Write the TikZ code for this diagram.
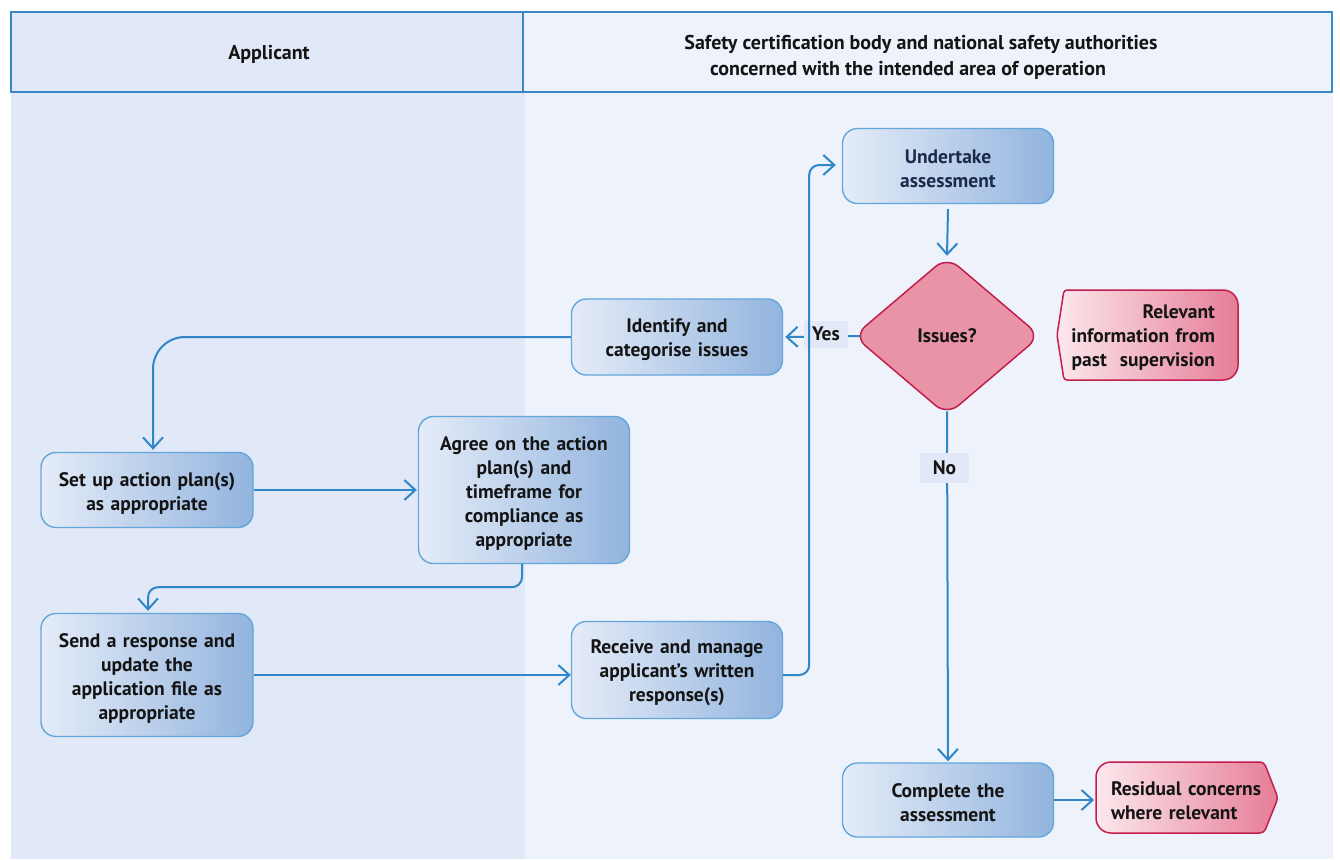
\documentclass[tikz,border=0pt]{standalone}
\usepackage{fontspec}
\setmainfont{PT Sans}
\usetikzlibrary{arrows.meta,shapes.geometric}
\definecolor{lanea}{HTML}{E1E8F7}
\definecolor{laneb}{HTML}{EDF2FB}
\definecolor{hdr}{HTML}{3B88C9}
\definecolor{connc}{HTML}{2F86C8}
\definecolor{boxedge}{HTML}{62A6DC}
\definecolor{boxl}{HTML}{E5ECF8}
\definecolor{boxr}{HTML}{92B4DE}
\definecolor{pinkedge}{HTML}{C41E4F}
\definecolor{diafill}{HTML}{E893A6}
\definecolor{pinkl}{HTML}{FCE8ED}
\definecolor{pinkr}{HTML}{E67D97}
\definecolor{txt}{HTML}{141414}
\definecolor{navy}{HTML}{1B2A4A}
\begin{document}
\begin{tikzpicture}[x=1pt,y=-1pt,
  font=\fontsize{19.5}{24}\selectfont\bfseries, text=txt,
  box/.style={draw=boxedge, line width=1.4pt, rounded corners=15pt, left color=boxl, right color=boxr, align=center, inner sep=0pt, execute at begin node={\rule{0pt}{20pt}}},
  conn/.style={draw=connc, line width=2pt, -{Straight Barb[length=11pt,width=20pt,line width=2pt]}},
  lbl/.style={fill=lanea, inner sep=0pt, minimum width=44pt, minimum height=27pt},
  pinkshape/.style={draw=pinkedge, line width=1.5pt, left color=pinkl, right color=pinkr},
  hdrcell/.style={draw=hdr, line width=2pt},
  hdrtext/.style={font=\fontsize{20}{26}\selectfont\bfseries}
]
\useasboundingbox (0,0) rectangle (1340,859);
\fill[white] (0,0) rectangle (1340,859);
% lanes
\fill[lanea] (11,92) rectangle (525,859);
\fill[laneb] (525,92) rectangle (1333,859);
\draw[hdrcell, fill=lanea] (11,12) rectangle (523,92);
\draw[hdrcell, fill=laneb] (523,12) rectangle (1332,92);
\node[hdrtext] (applicant) at (269,54) {Applicant};
\node[hdrtext] (authA) at (921,44) {Safety certification body and national safety authorities};
\node[hdrtext] (authB) at (908,70) {concerned with the intended area of operation};

% boxes
\node[box, minimum width=211pt, minimum height=75pt, text width=200pt, text=navy] (undertake) at (948,166) {Undertake\\assessment};
\node[diamond, draw=pinkedge, fill=diafill, line width=1.5pt, minimum width=187pt, minimum height=159pt, inner sep=0pt, rounded corners=15pt] (dia) at (947,336) {Issues?};
\node[box, minimum width=211pt, minimum height=76pt, text width=200pt] (ident) at (677,337) {Identify and\\categorise issues};
\node[box, minimum width=212pt, minimum height=75pt, text width=200pt] (setup) at (147,490) {Set up action plan(s)\\as appropriate};
\node[box, minimum width=211pt, minimum height=147pt, text width=200pt] (agree) at (524,490) {Agree on the action\\plan(s) and\\timeframe for\\compliance as\\appropriate};
\node[box, minimum width=212pt, minimum height=123pt, text width=200pt] (send) at (147,675) {Send a response and\\update the\\application file as\\appropriate};
\node[box, minimum width=211pt, minimum height=97pt, text width=200pt] (receive) at (677,670) {Receive and manage\\applicant's written\\response(s)};
\node[box, minimum width=211pt, minimum height=74pt, text width=200pt] (complete) at (948,800) {Complete the\\assessment};

% pink note shapes
\path[pinkshape] (1057,335) [rounded corners=3pt] -- (1064,290) [rounded corners=15pt] -- (1238,290) -- (1238,380) [rounded corners=3pt] -- (1064,380) -- cycle;
\node[text width=150pt, align=right, inner sep=0pt] (relevant) at (1140,338) {Relevant\\information from\\past\ \ supervision};
\path[pinkshape] (1278,798) [rounded corners=4pt] -- (1264,762) [rounded corners=15pt] -- (1096,762) -- (1096,833) [rounded corners=4pt] -- (1264,833) -- cycle;
\node[text width=162pt, align=left, inner sep=0pt] (residual) at (1192,801) {Residual concerns\\where relevant};
\coordinate (resin) at (1094,800);

% connectors
\draw[conn] ([yshift=-5pt]undertake.south) -- (dia.north);
\draw[conn] ([xshift=7pt]dia.west) -- ([xshift=2pt]ident.east);
\node[lbl] (yes) at (826,334) {Yes};
\draw[conn, rounded corners=32pt] (ident.west) -| ([xshift=6pt,yshift=2pt]setup.north);
\draw[conn] (setup.east) -- ([xshift=-1pt]agree.west);
\draw[conn, rounded corners=10pt] ([xshift=-2pt]agree.south) -- ++(0,23) -| ([xshift=1pt,yshift=2pt]send.north);
\draw[conn] (send.east) -- (send.east -| receive.west);
\draw[conn, rounded corners=10pt] ([yshift=-5pt]receive.east) -- ++(26,0) |- ([xshift=-6pt,yshift=1pt]undertake.west);
\draw[conn] ([yshift=5pt]dia.south) -- ([yshift=1pt]complete.north);
\node[lbl, minimum width=49pt, minimum height=30pt] (no) at (944.5,468) {No};
\draw[conn] (complete.east) -- (resin);
\end{tikzpicture}
\end{document}
